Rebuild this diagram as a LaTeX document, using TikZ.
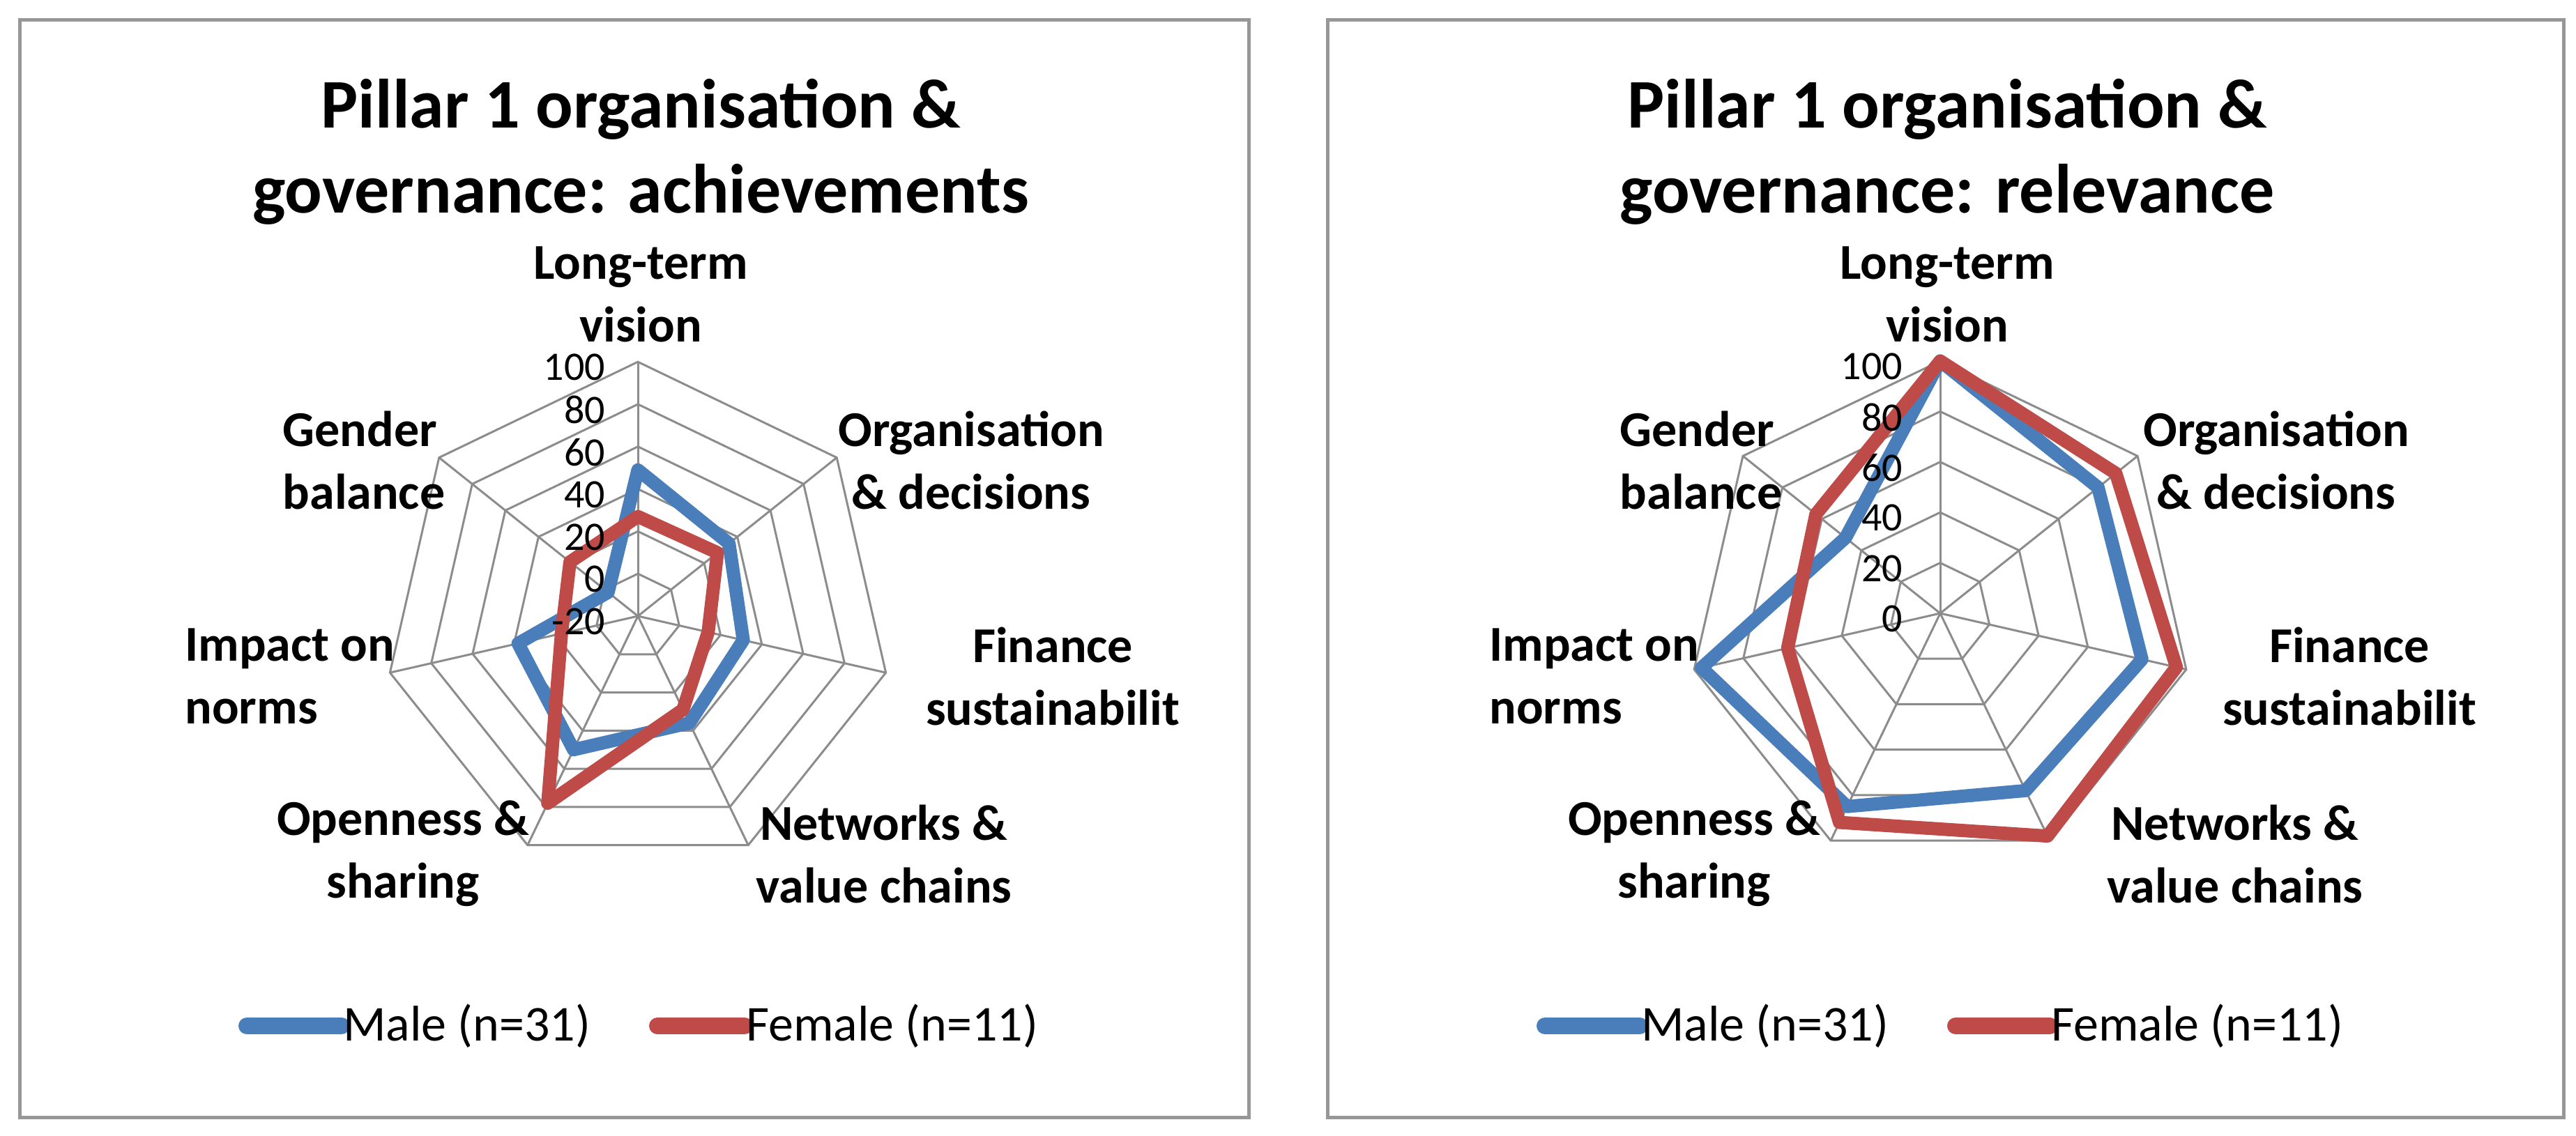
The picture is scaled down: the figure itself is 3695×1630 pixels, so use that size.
\documentclass[tikz,border=0pt]{standalone}
\usepackage{fontspec}
\setmainfont{Carlito}
\definecolor{mblue}{HTML}{4A7EBB}
\definecolor{fred}{HTML}{BE4B48}
\definecolor{gridc}{HTML}{8C8C8C}
\tikzset{
  gridl/.style={draw=gridc,line width=3pt},
  male/.style={draw=mblue,line width=19pt,line join=round},
  female/.style={draw=fred,line width=19pt,line join=round},
  legl/.style={line width=24pt,line cap=round},
  ttl/.style={font=\bfseries\fontsize{100}{122}\selectfont,align=center},
  axl/.style={font=\bfseries\fontsize{72}{90}\selectfont,align=center},
  tick/.style={font=\fontsize{58}{60}\selectfont,anchor=east,inner sep=0pt},
  leg/.style={font=\fontsize{72}{80}\selectfont,anchor=west,inner sep=2pt},
  panel/.style={draw=gridc!90,line width=5pt},
}
\begin{document}
\begin{tikzpicture}[x=1pt,y=-1pt]
\path[use as bounding box,fill=white] (0,0) rectangle (3695,1630);
% panels
\draw[panel] (28,28) rectangle (1791,1603);
\draw[panel] (1904,28) rectangle (3677,1603);

%================ LEFT =================
\node[ttl] (lt) at (919,218) {Pillar 1 organisation \&\\governance: achievements};
\begin{scope}[shift={(915,884)}]
  \foreach \v in {0,20,...,100}
    \draw[gridl] (90:{(\v+20)*3.04pt}) -- ({90-360/7}:{(\v+20)*3.04pt}) -- ({90-2*360/7}:{(\v+20)*3.04pt}) -- ({90-3*360/7}:{(\v+20)*3.04pt}) -- ({90-4*360/7}:{(\v+20)*3.04pt}) -- ({90-5*360/7}:{(\v+20)*3.04pt}) -- ({90-6*360/7}:{(\v+20)*3.04pt}) -- cycle;
  \coordinate (lc) at (0,0);
  \foreach \i in {0,...,6}
    \draw[gridl] (lc) -- ({90-\i*360/7}:{120*3.04pt});
  \foreach \v [count=\i from 0] in {49,35,31,36,50,38,-2}
    \coordinate (lm\i) at ({90-\i*360/7}:{(\v+20)*3.04pt});
  \foreach \v [count=\i from 0] in {27,28,14,29,78,17,21}
    \coordinate (lf\i) at ({90-\i*360/7}:{(\v+20)*3.04pt});
  \draw[male] (lm0)--(lm1)--(lm2)--(lm3)--(lm4)--(lm5)--(lm6)--cycle;
  \draw[female] (lf0)--(lf1)--(lf2)--(lf3)--(lf4)--(lf5)--(lf6)--cycle;
\end{scope}
\foreach \v [count=\k] in {-20,0,20,40,60,80,100}
  \node[tick] (ltk\k) at (868,{884-(\v+20)*3.04+8}) {\v};
\node[axl] (la0) at (919,422) {Long-term\\vision};
\node[axl,align=left] (la6) at (522,660) {Gender\\balance};
\node[axl] (la1) at (1393,660) {Organisation\\\& decisions};
\node[axl] (la2) at (1510,970) {Finance\\sustainabilit};
\node[axl] (la3) at (1268,1225) {Networks \&\\value chains};
\node[axl] (la4) at (578,1225) {Openness \&\\sharing};
\node[axl,align=left,anchor=west] (la5) at (262,970) {Impact on\\norms};
% legend
\coordinate (lb1) at (354,1472); \coordinate (lb2) at (490,1472);
\draw[legl,mblue] (lb1) -- (lb2);
\node[leg] (lbt) at (490,1472) {Male (n=31)};
\coordinate (lr1) at (943,1472); \coordinate (lr2) at (1068,1472);
\draw[legl,fred] (lr1) -- (lr2);
\node[leg] (lrt) at (1068,1472) {Female (n=11)};

%================ RIGHT =================
\node[ttl] (rt) at (2793,218) {Pillar 1 organisation \&\\governance: relevance};
\begin{scope}[shift={(2783,880)}]
  \foreach \v in {20,40,...,100}
    \draw[gridl] (90:{\v*3.62pt}) -- ({90-360/7}:{\v*3.62pt}) -- ({90-2*360/7}:{\v*3.62pt}) -- ({90-3*360/7}:{\v*3.62pt}) -- ({90-4*360/7}:{\v*3.62pt}) -- ({90-5*360/7}:{\v*3.62pt}) -- ({90-6*360/7}:{\v*3.62pt}) -- cycle;
  \coordinate (rc) at (0,0);
  \foreach \i in {0,...,6}
    \draw[gridl] (rc) -- ({90-\i*360/7}:{100*3.62pt});
  \foreach \v [count=\i from 0] in {100,80,82,78,85,97,48}
    \coordinate (rm\i) at ({90-\i*360/7}:{\v*3.62pt});
  \foreach \v [count=\i from 0] in {100,89,96,98,92,62,63}
    \coordinate (rf\i) at ({90-\i*360/7}:{\v*3.62pt});
  \draw[male] (rm0)--(rm1)--(rm2)--(rm3)--(rm4)--(rm5)--(rm6)--cycle;
  \draw[female] (rf0)--(rf1)--(rf2)--(rf3)--(rf4)--(rf5)--(rf6)--cycle;
\end{scope}
\foreach \v [count=\k] in {0,20,40,60,80,100}
  \node[tick] (rtk\k) at (2729,{880-\v*3.62+8}) {\v};
\node[axl] (ra0) at (2793,422) {Long-term\\vision};
\node[axl,align=left] (ra6) at (2440,660) {Gender\\balance};
\node[axl] (ra1) at (3265,660) {Organisation\\\& decisions};
\node[axl] (ra2) at (3370,970) {Finance\\sustainabilit};
\node[axl] (ra3) at (3206,1225) {Networks \&\\value chains};
\node[axl] (ra4) at (2430,1225) {Openness \&\\sharing};
\node[axl,align=left,anchor=west] (ra5) at (2133,970) {Impact on\\norms};
\coordinate (rb1) at (2216,1472); \coordinate (rb2) at (2352,1472);
\draw[legl,mblue] (rb1) -- (rb2);
\node[leg] (rbt) at (2352,1472) {Male (n=31)};
\coordinate (rr1) at (2805,1472); \coordinate (rr2) at (2940,1472);
\draw[legl,fred] (rr1) -- (rr2);
\node[leg] (rrt) at (2940,1472) {Female (n=11)};
\end{tikzpicture}
\end{document}
